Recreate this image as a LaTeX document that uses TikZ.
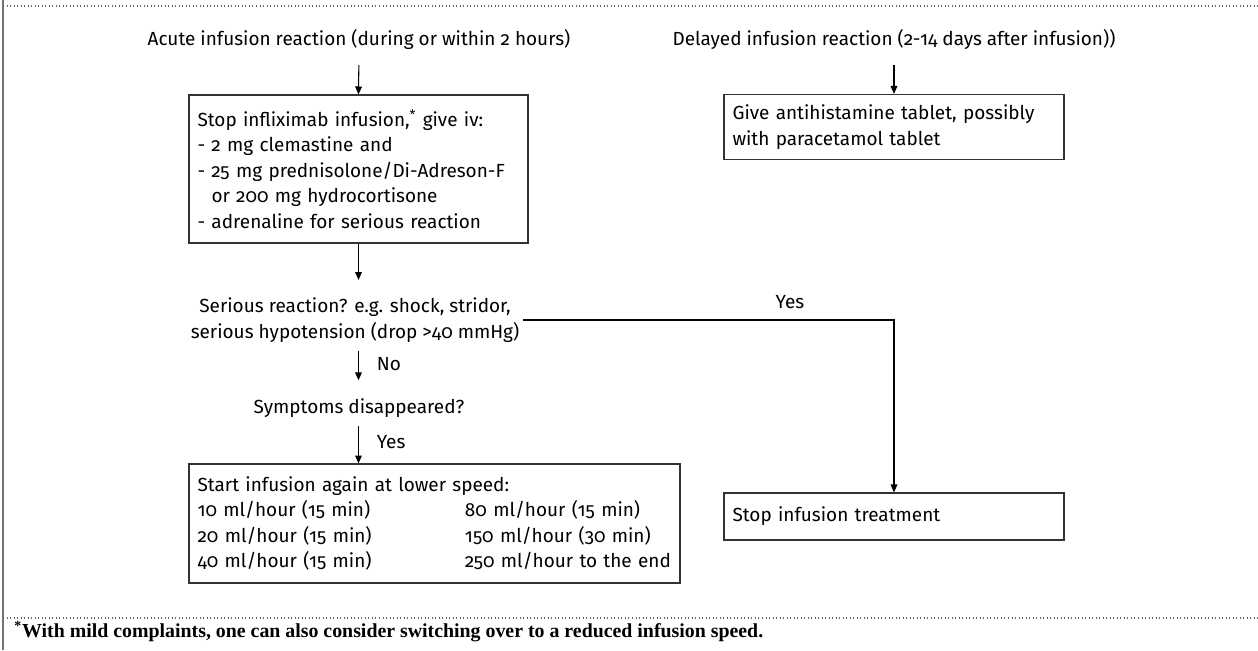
\documentclass[tikz,border=0pt]{standalone}
\usepackage{fontspec}
\setmainfont{Fira Sans}[Numbers=OldStyle]
\newfontfamily\notefont{Liberation Serif}
\usepackage{tikz}
\usetikzlibrary{arrows.meta}

\begin{document}
\begin{tikzpicture}[x=0.02cm, y=-0.02cm, font=\fontsize{10.8}{14.5}\selectfont, >={Triangle[length=4.5pt,width=3.8pt]}]
    \tikzstyle{box_style} = [draw=black!80, line width=0.7pt, inner xsep=0.17cm, inner ysep=0pt, align=left]
    \tikzstyle{text_style} = [inner sep=2pt, align=center]
    \tikzstyle{edge_style} = [draw=black, line width=0.6pt, ->]
    \tikzstyle{frame_style} = [draw=black!55, line width=0.8pt]
    \tikzstyle{rule_style} = [draw=black!60, line width=0.6pt, dash pattern=on 0.5pt off 1.5pt]
    \useasboundingbox (0,0) rectangle (1258,650);

    % frame round the chart
    \coordinate (f1) at (3,0);
    \coordinate (f2) at (3,650);
    \coordinate (t1) at (3,6);
    \coordinate (t2) at (1258,6);
    \coordinate (b1) at (3,618);
    \coordinate (b2) at (1258,618);
    \draw[frame_style] (f1) -- (f2);
    \draw[rule_style] (t1) -- (t2);
    \draw[rule_style] (b1) -- (b2);

    \node[text_style, anchor=base] (acute) at (359,45) {Acute infusion reaction (during or within 2 hours)};
    \node[text_style, anchor=base] (delayed) at (894,45) {Delayed infusion reaction (2-14 days after infusion))};

    \node[box_style, text width=6.44cm, minimum height=2.96cm] (box1) at (358.5,169)
        {Stop infliximab infusion,\textsuperscript{*} give iv:\\
         - 2 mg clemastine and\\
         - 25 mg prednisolone/Di-Adreson-F\\
         \phantom{- }or 200 mg hydrocortisone\\
         - adrenaline for serious reaction};
    \node[box_style, text width=6.46cm, minimum height=1.3cm] (box2) at (894,127)
        {Give antihistamine tablet, possibly\\ with paracetamol tablet};

    \node[text_style] (serious) at (355,320) {Serious reaction? e.g. shock, stridor,\\ serious hypotension (drop >40 mmHg)};
    \node[text_style, anchor=base] (symptoms) at (359,413) {Symptoms disappeared?};
    \node[text_style, anchor=base west] (no) at (373,370) {No};
    \node[text_style, anchor=base west] (yes1) at (373,448) {Yes};
    \node[text_style, anchor=base] (yes2) at (790,308) {Yes};

    \node[box_style, text width=9.48cm, minimum height=2.38cm] (box3) at (434.5,523.5)
        {Start infusion again at lower speed:\\
         \makebox[5.35cm][l]{10 ml/hour (15 min)}\mbox{80 ml/hour (15 min)}\\
         \makebox[5.35cm][l]{20 ml/hour (15 min)}\mbox{150 ml/hour (30 min)}\\
         \makebox[5.35cm][l]{40 ml/hour (15 min)}\mbox{250 ml/hour to the end}};
    \node[box_style, text width=6.46cm, minimum height=0.94cm] (box4) at (894,516.5) {Stop infusion treatment};

    \node[anchor=base west, inner sep=0pt, font=\notefont\bfseries\fontsize{11.3}{13}\selectfont] (note) at (14,637)
        {\textsuperscript{*}With mild complaints, one can also consider switching over to a reduced infusion speed.};

    \draw[edge_style, shorten <=7pt] (acute.south) -- (box1.north);
    \draw[edge_style, shorten <=7pt] (delayed.south) -- (box2.north);
    \draw[edge_style, shorten >=8pt] (box1.south) -- (box1.south |- serious.north);
    \draw[edge_style, shorten <=3pt, shorten >=8pt] (box1.south |- serious.south) -- (box1.south |- symptoms.north);
    \draw[edge_style, shorten <=3pt] (box1.south |- symptoms.south) -- (box1.south |- box3.north);
    \draw[edge_style] (serious.east) -| (box4.north);
\end{tikzpicture}
\end{document}
